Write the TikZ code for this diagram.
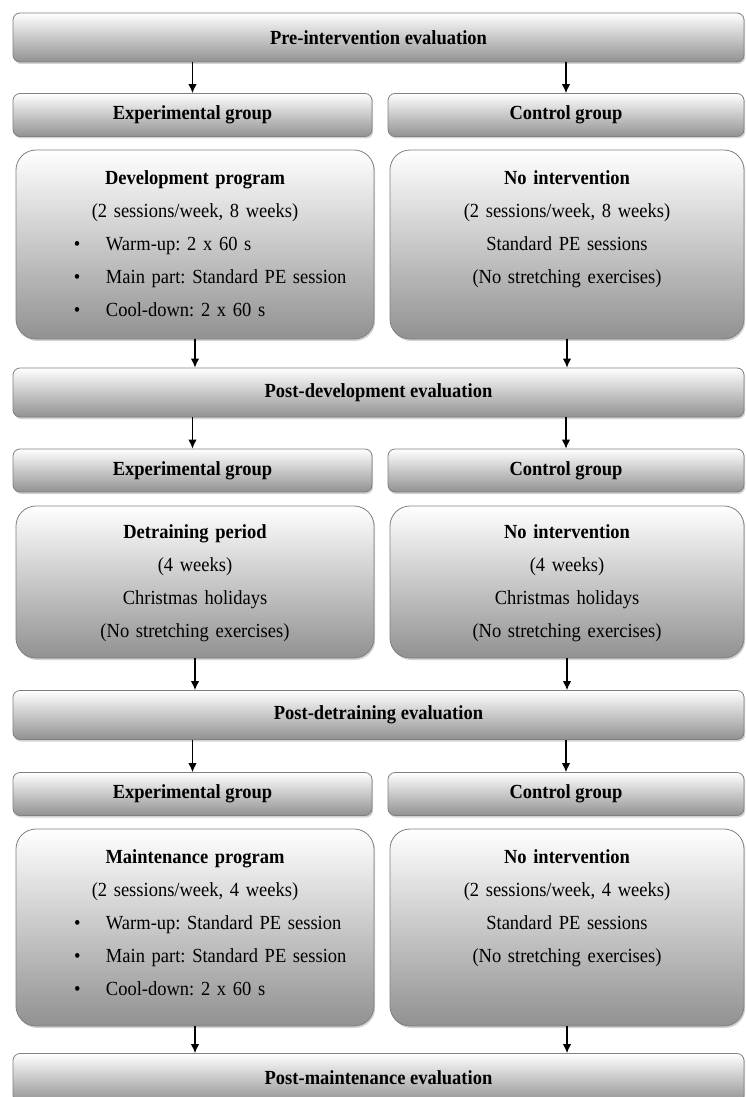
\documentclass[tikz,border=0pt]{standalone}
\usepackage{fontspec}
\setmainfont{Liberation Serif}[FakeStretch=0.925]
\usepackage{tikz}
\usetikzlibrary{positioning,shadows,arrows.meta}
\setlength{\parindent}{0pt}
\frenchspacing

\newcommand{\bitem}[1]{\hspace*{58pt}\makebox[32pt][l]{\textbullet}#1\par}

\tikzset{
    box/.style={draw=gray, line width=0.8pt, top color=white, bottom color=black!43,
        drop shadow={shadow xshift=1.2pt, shadow yshift=-2pt, opacity=0.35},
        inner sep=0pt, font=\bfseries\fontsize{20}{33}\selectfont},
    phase/.style={box, rounded corners=7pt, minimum width=731pt, minimum height=49pt},
    group/.style={box, rounded corners=7pt, minimum height=43pt},
    block/.style={box, rounded corners=20pt},
    txt/.style={inner sep=0pt, text width=358pt, font=\fontsize{20}{33}\selectfont},
    link/.style={-{Latex[length=9pt,width=8.5pt]}, line width=1.2pt}
}

\begin{document}
\begin{tikzpicture}[x=1pt, y=-1pt]
    \useasboundingbox (0,0) rectangle (745,1097);
    % Nodes
    \node[phase] (pre) at (378.5,37.5) {Pre-intervention evaluation};
    \node[group, minimum width=359pt] (exp1) at (192.5,115) {Experimental group};
    \node[group, minimum width=356pt] (ctl1) at (566,115) {Control group};
    \node[block, minimum width=358pt, minimum height=189pt] (dev) at (195,244.5) {};
    \node[block, minimum width=354pt, minimum height=189pt] (noint1) at (567,244.5) {};
    \node[txt, below=20.5pt of dev.north] (devtxt) {{\centering\textbf{Development program}\par
        (2 sessions/week, 8 weeks)\par}
        \bitem{Warm-up: 2 x 60 s}
        \bitem{Main part: Standard PE session}
        \bitem{Cool-down: 2 x 60 s}};
    \node[txt, align=center, below=20.5pt of noint1.north] (noint1txt) {\textbf{No intervention}\\
        (2 sessions/week, 8 weeks)\\ Standard PE sessions\\ (No stretching exercises)};

    \node[phase] (postdev) at (378.5,392.5) {Post-development evaluation};
    \node[group, minimum width=359pt] (exp2) at (192.5,470.5) {Experimental group};
    \node[group, minimum width=356pt] (ctl2) at (566,470.5) {Control group};
    \node[block, minimum width=358pt, minimum height=152pt] (detr) at (195,582) {};
    \node[block, minimum width=354pt, minimum height=152pt] (noint2) at (567,582) {};
    \node[txt, align=center, below=19pt of detr.north] (detrtxt) {\textbf{Detraining period}\\
        (4 weeks)\\ Christmas holidays\\ (No stretching exercises)};
    \node[txt, align=center, below=19pt of noint2.north] (noint2txt) {\textbf{No intervention}\\
        (4 weeks)\\ Christmas holidays\\ (No stretching exercises)};

    \node[phase] (postdetr) at (378.5,715) {Post-detraining evaluation};
    \node[group, minimum width=359pt] (exp3) at (192.5,794) {Experimental group};
    \node[group, minimum width=356pt] (ctl3) at (566,794) {Control group};
    \node[block, minimum width=358pt, minimum height=197pt] (maint) at (195,927.5) {};
    \node[block, minimum width=354pt, minimum height=197pt] (noint3) at (567,927.5) {};
    \node[txt, below=20.5pt of maint.north] (mainttxt) {{\centering\textbf{Maintenance program}\par
        (2 sessions/week, 4 weeks)\par}
        \bitem{Warm-up: Standard PE session}
        \bitem{Main part: Standard PE session}
        \bitem{Cool-down: 2 x 60 s}};
    \node[txt, align=center, below=20.5pt of noint3.north] (noint3txt) {\textbf{No intervention}\\
        (2 sessions/week, 4 weeks)\\ Standard PE sessions\\ (No stretching exercises)};

    \node[phase] (postmaint) at (378.5,1078) {Post-maintenance evaluation};

    % Arrows
    \draw[link] (pre.south -| exp1.north) -- (exp1.north);
    \draw[link] (pre.south -| ctl1.north) -- (ctl1.north);
    \draw[link] (dev.south) -- (dev.south |- postdev.north);
    \draw[link] (noint1.south) -- (noint1.south |- postdev.north);
    \draw[link] (postdev.south -| exp2.north) -- (exp2.north);
    \draw[link] (postdev.south -| ctl2.north) -- (ctl2.north);
    \draw[link] (detr.south) -- (detr.south |- postdetr.north);
    \draw[link] (noint2.south) -- (noint2.south |- postdetr.north);
    \draw[link] (postdetr.south -| exp3.north) -- (exp3.north);
    \draw[link] (postdetr.south -| ctl3.north) -- (ctl3.north);
    \draw[link] (maint.south) -- (maint.south |- postmaint.north);
    \draw[link] (noint3.south) -- (noint3.south |- postmaint.north);
\end{tikzpicture}
\end{document}
